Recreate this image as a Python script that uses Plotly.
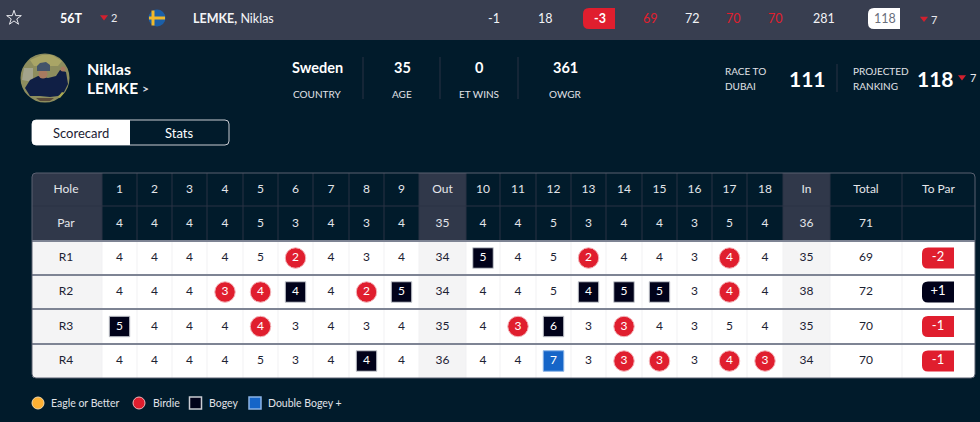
import plotly.graph_objects as go

# scorecard values
holes = ["1", "2", "3", "4", "5", "6", "7", "8", "9", "Out",
         "10", "11", "12", "13", "14", "15", "16", "17", "18", "In", "Total", "To Par"]
par = [4, 4, 4, 4, 5, 3, 4, 3, 4, 35, 4, 4, 5, 3, 4, 4, 3, 5, 4, 36, 71, ""]
rounds = ["R1", "R2", "R3", "R4"]
r1 = [4, 4, 4, 4, 5, 2, 4, 3, 4, 34, 5, 4, 5, 2, 4, 4, 3, 4, 4, 35, 69]
r2 = [4, 4, 4, 3, 4, 4, 4, 2, 5, 34, 4, 4, 5, 4, 5, 5, 3, 4, 4, 38, 72]
r3 = [5, 4, 4, 4, 4, 3, 4, 3, 4, 35, 4, 3, 6, 3, 3, 4, 3, 5, 4, 35, 70]
r4 = [4, 4, 4, 4, 5, 3, 4, 4, 4, 36, 4, 4, 7, 3, 3, 3, 3, 4, 3, 34, 70]
to_par = ["-2", "+1", "-1", "-1"]
legend_labels = ["Eagle or Better", "Birdie", "Bogey", "Double Bogey +"]

BG = "#011b2b"
BAR = "#383e50"
HEAD = "#30384a"
RED = "#e01e2e"
INK = "#01021a"
BLUE = "#1565c8"
ORANGE = "#ffb133"
TEXT = "#1c2233"
GRID = "#2b3244"
FONT = "Lato"

# table geometry, in page pixels
col_edges = [102, 137, 172, 207, 243, 278, 313, 349, 384, 419, 466, 500, 536, 571,
             606, 642, 677, 712, 747, 783, 830, 902, 975]
row_edges = [173, 206, 241, 275, 309, 344, 378]
LEFT = 32
col_x = [(a + b) / 2 for a, b in zip(col_edges, col_edges[1:])]
row_y = [(a + b) / 2 for a, b in zip(row_edges, row_edges[1:])]
OUT, IN = holes.index("Out"), holes.index("In")

shapes = []
notes = []


def rect(x0, y0, x1, y1, fill, line=None, width=1):
    shapes.append(dict(type="rect", x0=x0, y0=y0, x1=x1, y1=y1, fillcolor=fill,
                       line=dict(color=line, width=width) if line else dict(width=0),
                       layer="below"))


def rounded(x0, y0, x1, y1, r, fill, line=None, width=1):
    # r = top left, top right, bottom right, bottom left
    tl, tr, br, bl = r
    path = (f"M{x0 + tl},{y0} L{x1 - tr},{y0} Q{x1},{y0} {x1},{y0 + tr} "
            f"L{x1},{y1 - br} Q{x1},{y1} {x1 - br},{y1} L{x0 + bl},{y1} "
            f"Q{x0},{y1} {x0},{y1 - bl} L{x0},{y0 + tl} Q{x0},{y0} {x0 + tl},{y0} Z")
    shapes.append(dict(type="path", path=path, fillcolor=fill,
                       line=dict(color=line, width=width) if line else dict(width=0),
                       layer="below"))


def circle(cx, cy, r, fill):
    shapes.append(dict(type="circle", x0=cx - r, y0=cy - r, x1=cx + r, y1=cy + r,
                       fillcolor=fill, line=dict(width=0), layer="below"))


def poly(points, fill):
    path = "M" + " L".join(f"{x},{y}" for x, y in points) + " Z"
    shapes.append(dict(type="path", path=path, fillcolor=fill, line=dict(width=0), layer="below"))


def vline(x, y0, y1, color, width=1):
    shapes.append(dict(type="line", x0=x, x1=x, y0=y0, y1=y1,
                       line=dict(color=color, width=width), layer="below"))


def hline(y, x0, x1, color, width=1):
    shapes.append(dict(type="line", x0=x0, x1=x1, y0=y, y1=y,
                       line=dict(color=color, width=width), layer="below"))


def note(x, y, text, size=12, color="white", align="center"):
    # left anchored annotations sit about 2px right of the given x
    if align == "left":
        x -= 2
    notes.append(dict(x=x, y=y, text=text, showarrow=False, xanchor=align, yanchor="middle",
                      font=dict(family=FONT, size=size, color=color)))


# top strip
rect(0, 0, 980, 40, BAR)
note(71, 18, "<b>56T</b>", 12.5)
note(114, 17.5, "2", 11, "#e8e9ee")
note(193, 18, "<b>LEMKE,</b> Niklas", 12.5, "#f2f3f6", "left")
circle(157, 18, 8.5, "#1b5fa8")
rect(151.5, 10.5, 154.5, 25.5, "#f0b92a")
rect(149, 16.5, 165, 19.5, "#f0b92a")
for x, txt, col in [(494, "-1", "#f2f3f6"), (545, "18", "#f2f3f6"), (650, "69", RED),
                    (692, "72", "#f2f3f6"), (733, "70", RED), (775, "70", RED),
                    (824, "281", "#f2f3f6")]:
    note(x, 18, txt, 12.5, col)
rounded(583, 8, 615, 29, (6, 0, 0, 6), RED)
note(600, 18.5, "<b>-3</b>", 12.5)
rounded(868, 8, 900, 29, (6, 0, 0, 6), "white")
note(885, 18.5, "118", 12.5, "#6a6f7c")
note(934, 19, "7", 11, "#e8e9ee")

# player block
circle(45, 78, 24.5, "#8d8d5e")
poly([(30, 60), (42, 55), (52, 55), (62, 61), (58, 66), (34, 66)], "#a9a566")
poly([(24, 68), (33, 68), (33, 82), (22, 80)], "#a3a48c")
poly([(25, 88), (30, 80), (38, 76), (48, 78), (56, 76), (60, 70), (66, 72), (68, 84),
      (64, 92), (58, 96), (50, 97), (40, 96), (30, 96)], "#101f45")
circle(63, 69, 2.5, "#a87a60")
circle(43, 74, 4.5, "#a87a60")
poly([(37, 71), (37, 66), (40, 63), (46, 62), (50, 65), (50, 71)], "#43546a")
poly([(36, 98), (54, 98), (50, 101), (40, 101)], "#5a4a3a")
poly([(58, 97), (62, 92), (64, 93), (60, 98)], "#a8a850")
note(87, 68, "<b>Niklas</b>", 16, align="left")
note(87, 88, "<b>LEMKE</b>", 15.5, align="left")
note(145, 88, "<b>&gt;</b>", 12, "#d8dae0")

for x, value, label in [(317, "Sweden", "COUNTRY"), (402, "35", "AGE"),
                        (479, "0", "ET WINS"), (565, "361", "OWGR")]:
    note(x, 67, f"<b>{value}</b>", 14.5)
    note(x, 94, label, 10, "#e0e2e8")
for x in [363, 440, 518]:
    vline(x, 57, 99, GRID)

note(725, 71, "RACE TO", 10, "#e0e2e8", "left")
note(725, 85.5, "DUBAI", 10, "#e0e2e8", "left")
note(807, 78, "<b>111</b>", 21)
vline(837, 64, 92, GRID)
note(853, 71, "PROJECTED", 10, "#e0e2e8", "left")
note(853, 85.5, "RANKING", 10, "#e0e2e8", "left")
note(935, 78, "<b>118</b>", 21)
note(973, 77.5, "7", 11, "#e8e9ee")

# tabs
rounded(32, 120, 229, 145, (4, 4, 4, 4), BG, "#c9ccd2", 1)
rounded(32, 120, 130, 145, (4, 0, 0, 4), "white")
note(81, 132.5, "Scorecard", 13, TEXT)
note(179, 132.5, "Stats", 13, "white")

# table backgrounds
t, hdr_bottom, b, right = row_edges[0], row_edges[2], row_edges[-1], col_edges[-1]
rounded(LEFT, hdr_bottom, right, b, (0, 0, 4, 4), "white")
rounded(LEFT, t, 102, hdr_bottom, (4, 0, 0, 0), HEAD)
rounded(LEFT, hdr_bottom, 102, b, (0, 0, 0, 4), "#f4f4f5")
for i in (OUT, IN):
    rect(col_edges[i], t, col_edges[i + 1], hdr_bottom, HEAD)
    rect(col_edges[i], hdr_bottom, col_edges[i + 1], b, "#f4f4f5")
for x in col_edges[:-1]:
    vline(x, t, hdr_bottom, GRID)
    vline(x, hdr_bottom, b, "#f1f1f3")
hline(row_edges[1], LEFT, right, GRID)
for y in row_edges[3:-1]:
    hline(y, LEFT, right, "#7e8494", 2)
hline(hdr_bottom, LEFT, right, "#7e8494", 2)
rounded(LEFT, t, right, b, (4, 4, 4, 4), "rgba(0,0,0,0)", "#5a6070", 1)

# to par badges
for y, val in zip(row_y[2:], to_par):
    rounded(922, y - 10.5, 954, y + 10.5, (6, 0, 0, 6), INK if val.startswith("+") else RED)

# sort the score cells into plain / birdie / bogey / double
plain_x, plain_y, plain_t = [], [], []
marks = {"birdie": ([], [], []), "bogey": ([], [], []), "double": ([], [], [])}
for row, scores in enumerate([r1, r2, r3, r4]):
    for col, score in enumerate(scores):
        x, y = col_x[col], row_y[row + 2]
        diff = score - par[col]
        key = None
        if col < OUT or OUT < col < IN:
            key = "birdie" if diff < 0 else "bogey" if diff == 1 else "double" if diff > 1 else None
        if key:
            marks[key][0].append(x)
            marks[key][1].append(y)
            marks[key][2].append(score)
        else:
            plain_x.append(x)
            plain_y.append(y)
            plain_t.append(score)


def text_trace(xs, ys, labels, color, size=12):
    return go.Scatter(x=xs, y=ys, text=[str(v) for v in labels], mode="text",
                      textposition="middle center", hoverinfo="skip",
                      textfont=dict(family=FONT, size=size, color=color))


def mark_trace(xs, ys, symbol, color, edge, size=20.5, width=1):
    return go.Scatter(x=xs, y=ys, mode="markers", hoverinfo="skip",
                      marker=dict(symbol=symbol, size=size, color=color,
                                  line=dict(color=edge, width=width)))


fig = go.Figure()
fig.add_trace(mark_trace(marks["birdie"][0], marks["birdie"][1], "circle", RED, "#f3b5ba"))
fig.add_trace(mark_trace(marks["bogey"][0], marks["bogey"][1], "square", INK, "#c9ccd2"))
fig.add_trace(mark_trace(marks["double"][0], marks["double"][1], "square", BLUE, "#8ab4e6"))

# header rows
fig.add_trace(text_trace(col_x, [row_y[0]] * len(col_x), holes, "#e4e6ea"))
fig.add_trace(text_trace(col_x, [row_y[1]] * len(col_x), par, "#e4e6ea"))
fig.add_trace(text_trace([66, 66], row_y[:2], ["Hole", "Par"], "#e4e6ea"))

# body
fig.add_trace(text_trace(plain_x, plain_y, plain_t, TEXT))
fig.add_trace(text_trace([66] * 4, row_y[2:], rounds, TEXT))
for key in marks:
    fig.add_trace(text_trace(marks[key][0], marks[key][1], marks[key][2], "white"))
fig.add_trace(text_trace([938] * 4, row_y[2:], to_par, "white", 13))

# little page symbols
fig.add_trace(go.Scatter(x=[14], y=[18], mode="markers", hoverinfo="skip",
                         marker=dict(symbol="star-open", size=11, color="#e8e9ee", line=dict(width=1))))
fig.add_trace(go.Scatter(x=[104, 924, 962], y=[17, 18.5, 77], mode="markers", hoverinfo="skip",
                         marker=dict(symbol="triangle-down", size=7, color="#d2202e", line=dict(width=0))))

# key under the table
fig.add_trace(mark_trace([38], [403], "circle", ORANGE, "#f3d9a8", 12))
fig.add_trace(mark_trace([139], [403], "circle", RED, "#f3b5ba", 12))
fig.add_trace(mark_trace([195.5], [403], "square", INK, "#c9ccd2", 12, 1.5))
fig.add_trace(mark_trace([255], [403], "square", BLUE, "#8ab4e6", 12, 1.5))
for x, label in zip([51, 153, 209, 268], legend_labels):
    note(x, 403, label, 10.5, "#e0e2e8", "left")

fig.update_layout(
    width=980, height=422, margin=dict(l=0, r=0, t=0, b=0),
    paper_bgcolor=BG, plot_bgcolor=BG, showlegend=False,
    xaxis=dict(range=[0, 980], visible=False, fixedrange=True),
    yaxis=dict(range=[422, 0], visible=False, fixedrange=True),
    shapes=shapes, annotations=notes,
)
fig.write_html("out.html", config=dict(displayModeBar=False),
               post_script="document.body.style.margin='0';")
